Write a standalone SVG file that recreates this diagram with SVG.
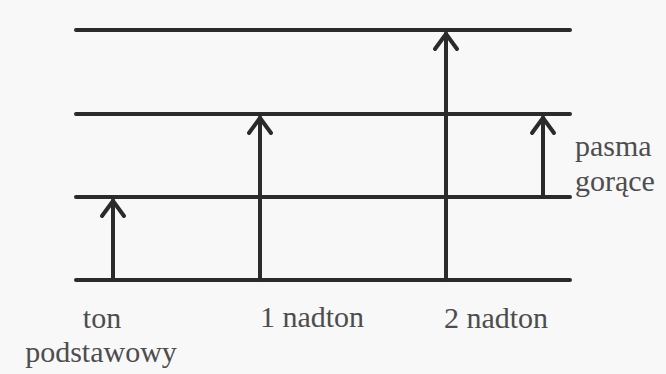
<svg xmlns="http://www.w3.org/2000/svg" width="666" height="374" viewBox="0 0 666 374">
<defs>
<style>
.lvl{stroke:#2b2b2b;stroke-width:4;stroke-linecap:round}
.arr{stroke:#2b2b2b;stroke-width:4;fill:none;stroke-linejoin:miter;stroke-linecap:round}
.t{font-family:"Liberation Serif","Times New Roman",serif;font-size:30px;fill:#4d4d4d}
</style>
</defs>
<rect width="666" height="374" fill="#f8f8f8"/>
<g id="levels">
<line class="lvl" x1="76" y1="30" x2="570" y2="30"/>
<line class="lvl" x1="76" y1="114" x2="570" y2="114"/>
<line class="lvl" x1="76" y1="197" x2="570" y2="197"/>
<line class="lvl" x1="76" y1="280" x2="570" y2="280"/>
</g>
<g id="connectors">
<path class="arr" d="M113 280V200M102 216L113 201L124 216"/>
<path class="arr" d="M260 280V117M249 133L260 118L271 133"/>
<path class="arr" d="M446 280V33M435 49L446 34L457 49"/>
<path class="arr" d="M543 197V117M532 133L543 118L554 133"/>
</g>
<g id="labels">
<text class="t" x="102" y="328" text-anchor="middle">ton</text>
<text class="t" x="101" y="362" text-anchor="middle">podstawowy</text>
<text class="t" x="312" y="327" text-anchor="middle">1 nadton</text>
<text class="t" x="496" y="328" text-anchor="middle">2 nadton</text>
<text class="t" x="575" y="156">pasma</text>
<text class="t" x="575" y="191">gorące</text>
</g>
</svg>
